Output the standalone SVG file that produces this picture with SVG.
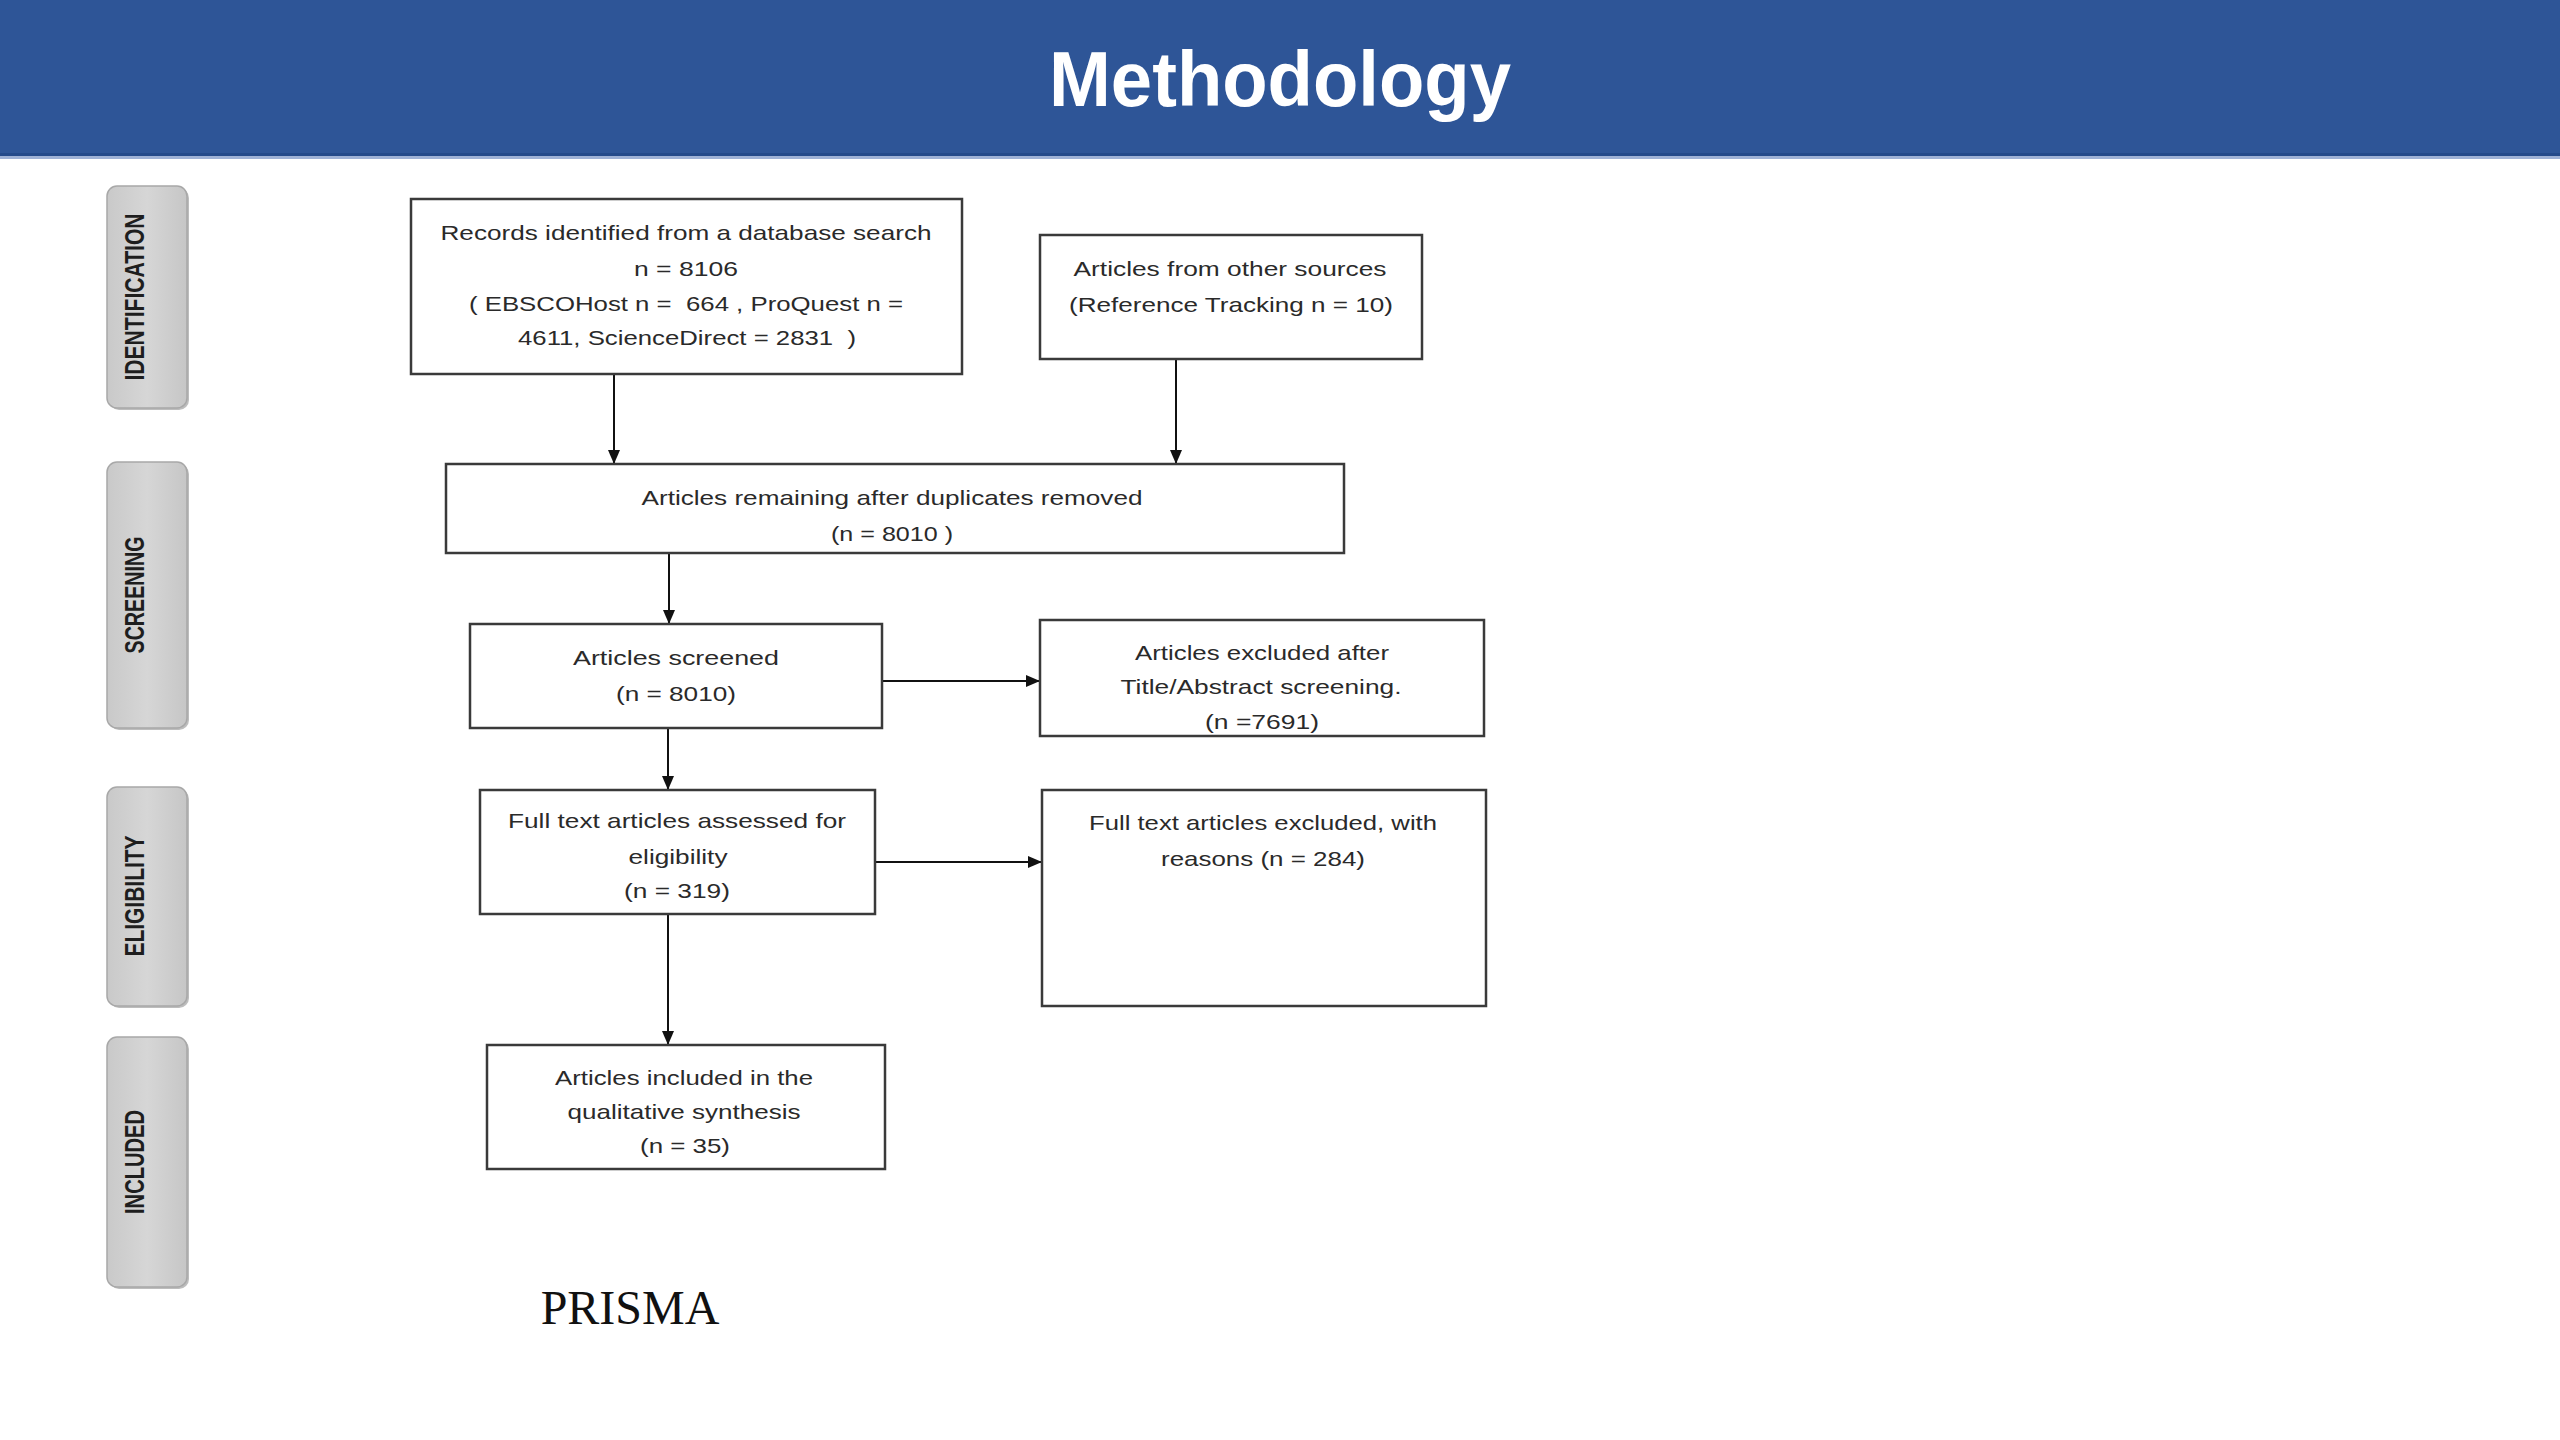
<svg xmlns="http://www.w3.org/2000/svg" width="2560" height="1440" viewBox="0 0 2560 1440">
<defs>
<marker id="ah" viewBox="0 0 14 12" refX="14" refY="6" markerWidth="14" markerHeight="12" markerUnits="userSpaceOnUse" orient="auto">
<path d="M0,0 L14,6 L0,12 Z" fill="#111"/>
</marker>
<linearGradient id="lg" x1="0" y1="0" x2="1" y2="0">
<stop offset="0" stop-color="#c9c9c9"/>
<stop offset="0.5" stop-color="#d6d6d6"/>
<stop offset="1" stop-color="#c6c6c6"/>
</linearGradient>
</defs>
<style>
.box{fill:#fff;stroke:#3a3a3a;stroke-width:2.5}
.t{font-family:"Liberation Sans",Arial,sans-serif;font-size:21px;fill:#2a2a2a;text-anchor:middle}
.lab{fill:url(#lg);stroke:#a8a8a8;stroke-width:1.5}
.shadow{fill:#bdbdbd}
.lt{font-family:"Liberation Sans",Arial,sans-serif;font-weight:bold;font-size:28px;fill:#1e1e1e;text-anchor:middle}
.c{stroke:#111;stroke-width:2;fill:none;marker-end:url(#ah)}
</style>
<rect width="2560" height="1440" fill="#fff"/>
<g id="header">
<rect x="0" y="0" width="2560" height="156" fill="#2e5597"/>
<rect x="0" y="153" width="2560" height="3" fill="#244a8a"/>
<rect x="0" y="156" width="2560" height="3" fill="#9fb2d6"/>
<text x="1280" y="106" font-family="Liberation Sans,Arial,sans-serif" font-weight="bold" font-size="78" fill="#fff" text-anchor="middle" textLength="462" lengthAdjust="spacingAndGlyphs">Methodology</text>
</g>
<g id="label-identification">
<rect class="shadow" x="109" y="188" width="80" height="222" rx="10"/>
<rect class="lab" x="107" y="186" width="80" height="222" rx="10"/>
<text class="lt" transform="translate(144,297) rotate(-90)" textLength="167" lengthAdjust="spacingAndGlyphs">IDENTIFICATION</text>
</g>
<g id="label-screening">
<rect class="shadow" x="109" y="464" width="80" height="266" rx="10"/>
<rect class="lab" x="107" y="462" width="80" height="266" rx="10"/>
<text class="lt" transform="translate(144,595) rotate(-90)" textLength="117" lengthAdjust="spacingAndGlyphs">SCREENING</text>
</g>
<g id="label-eligibility">
<rect class="shadow" x="109" y="789" width="80" height="219" rx="10"/>
<rect class="lab" x="107" y="787" width="80" height="219" rx="10"/>
<text class="lt" transform="translate(144,896) rotate(-90)" textLength="121" lengthAdjust="spacingAndGlyphs">ELIGIBILITY</text>
</g>
<g id="label-included">
<rect class="shadow" x="109" y="1039" width="80" height="250" rx="10"/>
<rect class="lab" x="107" y="1037" width="80" height="250" rx="10"/>
<text class="lt" transform="translate(144,1162) rotate(-90)" textLength="104" lengthAdjust="spacingAndGlyphs">INCLUDED</text>
</g>
<g id="connectors">
<line class="c" x1="614" y1="374" x2="614" y2="464"/>
<line class="c" x1="1176" y1="359" x2="1176" y2="464"/>
<line class="c" x1="669" y1="553" x2="669" y2="624"/>
<line class="c" x1="882" y1="681" x2="1040" y2="681"/>
<line class="c" x1="668" y1="728" x2="668" y2="790"/>
<line class="c" x1="875" y1="862" x2="1042" y2="862"/>
<line class="c" x1="668" y1="914" x2="668" y2="1045"/>
</g>
<g id="records">
<rect class="box" x="411" y="199" width="551" height="175"/>
<text class="t" x="686" y="240" textLength="491" lengthAdjust="spacingAndGlyphs">Records identified from a database search</text>
<text class="t" x="686" y="276" textLength="104" lengthAdjust="spacingAndGlyphs">n = 8106</text>
<text class="t" x="686" y="311" textLength="434" lengthAdjust="spacingAndGlyphs" xml:space="preserve">( EBSCOHost n =  664 , ProQuest n =</text>
<text class="t" x="687" y="345" textLength="338" lengthAdjust="spacingAndGlyphs" xml:space="preserve">4611, ScienceDirect = 2831  )</text>
</g>
<g id="other-sources">
<rect class="box" x="1040" y="235" width="382" height="124"/>
<text class="t" x="1230" y="276" textLength="313" lengthAdjust="spacingAndGlyphs">Articles from other sources</text>
<text class="t" x="1231" y="312" textLength="324" lengthAdjust="spacingAndGlyphs">(Reference Tracking n = 10)</text>
</g>
<g id="duplicates-removed">
<rect class="box" x="446" y="464" width="898" height="89"/>
<text class="t" x="892" y="505" textLength="501" lengthAdjust="spacingAndGlyphs">Articles remaining after duplicates removed</text>
<text class="t" x="892" y="541" textLength="122" lengthAdjust="spacingAndGlyphs">(n = 8010 )</text>
</g>
<g id="screened">
<rect class="box" x="470" y="624" width="412" height="104"/>
<text class="t" x="676" y="665" textLength="206" lengthAdjust="spacingAndGlyphs">Articles screened</text>
<text class="t" x="676" y="701" textLength="120" lengthAdjust="spacingAndGlyphs">(n = 8010)</text>
</g>
<g id="excluded-screening">
<rect class="box" x="1040" y="620" width="444" height="116"/>
<text class="t" x="1262" y="660" textLength="254" lengthAdjust="spacingAndGlyphs">Articles excluded after</text>
<text class="t" x="1261" y="694" textLength="281" lengthAdjust="spacingAndGlyphs">Title/Abstract screening.</text>
<text class="t" x="1262" y="729" textLength="114" lengthAdjust="spacingAndGlyphs">(n =7691)</text>
</g>
<g id="assessed">
<rect class="box" x="480" y="790" width="395" height="124"/>
<text class="t" x="677" y="828" textLength="338" lengthAdjust="spacingAndGlyphs">Full text articles assessed for</text>
<text class="t" x="678" y="864" textLength="99" lengthAdjust="spacingAndGlyphs">eligibility</text>
<text class="t" x="677" y="898" textLength="106" lengthAdjust="spacingAndGlyphs">(n = 319)</text>
</g>
<g id="excluded-fulltext">
<rect class="box" x="1042" y="790" width="444" height="216"/>
<text class="t" x="1263" y="830" textLength="348" lengthAdjust="spacingAndGlyphs">Full text articles excluded, with</text>
<text class="t" x="1263" y="866" textLength="204" lengthAdjust="spacingAndGlyphs">reasons (n = 284)</text>
</g>
<g id="included">
<rect class="box" x="487" y="1045" width="398" height="124"/>
<text class="t" x="684" y="1085" textLength="258" lengthAdjust="spacingAndGlyphs">Articles included in the</text>
<text class="t" x="684" y="1119" textLength="233" lengthAdjust="spacingAndGlyphs">qualitative synthesis</text>
<text class="t" x="685" y="1153" textLength="90" lengthAdjust="spacingAndGlyphs">(n = 35)</text>
</g>
<text x="630" y="1324" font-family="Liberation Serif,'Times New Roman',serif" font-size="48" fill="#111" text-anchor="middle">PRISMA</text>
</svg>
